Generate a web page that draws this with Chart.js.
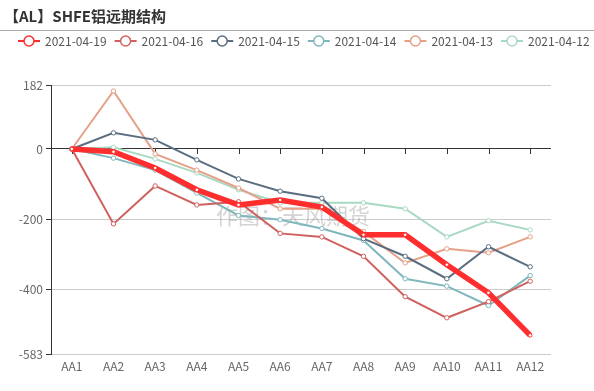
<!DOCTYPE html>
<html>
<head>
<meta charset="utf-8">
<script src="https://cdn.jsdelivr.net/npm/chart.js@4/dist/chart.umd.min.js"></script>
<style>
  html, body { margin: 0; padding: 0; background: #fff; }
  #wrap { width: 594px; height: 391px; position: relative; }
</style>
</head>
<body>
<div id="wrap"><canvas id="c" width="594" height="391"></canvas></div>
<script>
/* ── Data ─────────────────────────────────────── */
const contracts = ['AA1','AA2','AA3','AA4','AA5','AA6','AA7','AA8','AA9','AA10','AA11','AA12'];
const dates = ['2021-04-19','2021-04-16','2021-04-15','2021-04-14','2021-04-13','2021-04-12'];
const s0419 = [0, -8, -54, -116, -159, -145, -165, -244, -244, -329, -409, -530];
const s0416 = [0, -213, -105, -159, -150, -240, -250, -305, -420, -480, -434, -376];
const s0415 = [0, 46, 26, -31, -85, -120, -140, -255, -305, -369, -278, -335];
const s0414 = [0, -26, -60, -125, -189, -201, -226, -260, -369, -390, -445, -360];
const s0413 = [0, 165, -14, -60, -111, -170, -170, -235, -324, -284, -295, -250];
const s0412 = [0, 5, -28, -68, -116, -153, -153, -153, -170, -250, -204, -230];
const yTicks = [182, 0, -200, -400, -583];

const series = [s0419, s0416, s0415, s0414, s0413, s0412];
const colors = ['#ff2e2e', '#d0605e', '#5b6e80', '#7fb7bd', '#e6a088', '#a9d9c3'];
const widths = [5.5, 2, 2, 2, 2, 2];

/* ── Title, legend, watermark, x ticks on zero line ── */
const decor = {
  id: 'decor',
  beforeDatasetsDraw(chart) {
    const ctx = chart.ctx;
    ctx.save();
    ctx.font = '22px "Noto Sans CJK SC"';
    ctx.fillStyle = 'rgba(160,160,160,0.45)';
    ctx.textBaseline = 'middle';
    ctx.fillText('作图：天风期货', 216, 216);
    // short ticks below the zero line
    const x = chart.scales.x, y = chart.scales.y;
    const y0 = y.getPixelForValue(0);
    ctx.strokeStyle = '#333';
    ctx.lineWidth = 1;
    ctx.beginPath();
    contracts.forEach((c, i) => {
      const px = Math.round(x.getPixelForValue(i)) + 0.5;
      ctx.moveTo(px, y0);
      ctx.lineTo(px, y0 + 5);
    });
    ctx.stroke();
    ctx.restore();
  },
  afterDraw(chart) {
    const ctx = chart.ctx;
    ctx.save();
    ctx.fillStyle = '#333';
    ctx.font = 'bold 15px "Noto Sans CJK SC"';
    ctx.textBaseline = 'middle';
    ctx.fillText('【AL】SHFE铝远期结构', 4, 16);
    ctx.strokeStyle = '#aaa';
    ctx.lineWidth = 1;
    ctx.beginPath();
    ctx.moveTo(0, 30.5);
    ctx.lineTo(594, 30.5);
    ctx.stroke();
    // legend
    ctx.font = '12px "Noto Sans CJK SC"';
    dates.forEach((d, i) => {
      const sx = 18 + i * 96.6, cy = 41;
      ctx.strokeStyle = colors[i];
      ctx.lineWidth = 2;
      ctx.beginPath();
      ctx.moveTo(sx, cy);
      ctx.lineTo(sx + 22, cy);
      ctx.stroke();
      ctx.beginPath();
      ctx.arc(sx + 11, cy, 5, 0, Math.PI * 2);
      ctx.fillStyle = '#fff';
      ctx.fill();
      ctx.lineWidth = 1.5;
      ctx.stroke();
      ctx.fillStyle = '#555';
      ctx.fillText(d, sx + 27, cy);
    });
    ctx.restore();
  }
};

/* ── Chart ─────────────────────────────────────── */
const ctx = document.getElementById('c').getContext('2d');
new Chart(ctx, {
  type: 'line',
  data: {
    labels: contracts,
    datasets: series.map((s, i) => ({
      label: dates[i],
      data: s,
      borderColor: colors[i],
      backgroundColor: '#fff',
      borderWidth: widths[i],
      pointRadius: i === 0 ? 1.8 : 2.2,
      pointBorderWidth: 1,
      pointBackgroundColor: '#fff',
      pointBorderColor: colors[i],
      tension: 0,
      fill: false
    }))
  },
  options: {
    responsive: false,
    animation: false,
    layout: { padding: { top: 85, left: 0, right: 43, bottom: 0 } },
    plugins: { legend: { display: false }, title: { display: false }, tooltip: { enabled: false } },
    scales: {
      x: {
        offset: true,
        grid: { display: false, drawTicks: false },
        border: { display: false },
        ticks: { color: '#666', font: { size: 12, family: '"Noto Sans CJK SC"' }, padding: 5, maxRotation: 0, autoSkip: false },
        afterFit(scale) { scale.height = 37; }
      },
      y: {
        min: -583,
        max: 182,
        afterBuildTicks(scale) { scale.ticks = yTicks.map(v => ({ value: v })); },
        grid: {
          color: c => (c.tick && c.tick.value === 0) ? '#333' : '#ccc',
          tickColor: '#333',
          tickLength: 5,
          lineWidth: 1
        },
        border: { display: true, color: '#333' },
        ticks: { color: '#666', font: { size: 12, family: '"Noto Sans CJK SC"' }, padding: 3 },
        afterFit(scale) { scale.width = 51; }
      }
    }
  },
  plugins: [decor]
});
</script>
</body>
</html>
